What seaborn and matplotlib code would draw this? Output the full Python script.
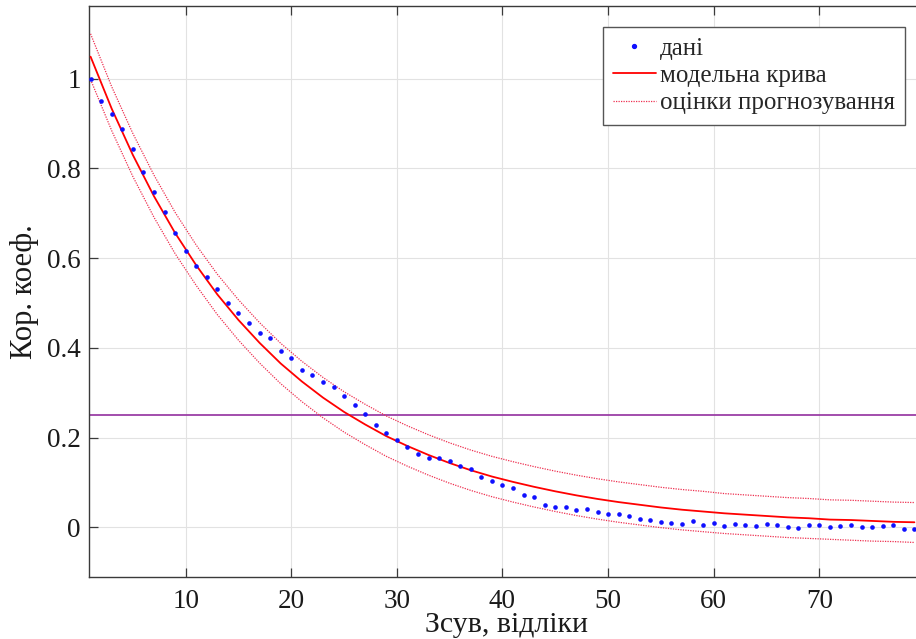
import matplotlib
matplotlib.use("Agg")
import matplotlib.pyplot as plt
import seaborn as sns
import pandas as pd
from matplotlib.lines import Line2D

# Lag values and measured correlation coefficients
lags = list(range(1, 80))
corr = [
    1.000, 0.951, 0.922, 0.888, 0.843, 0.791, 0.747, 0.702, 0.656, 0.615,
    0.582, 0.558, 0.531, 0.500, 0.477, 0.456, 0.432, 0.421, 0.392, 0.377,
    0.351, 0.340, 0.323, 0.312, 0.292, 0.273, 0.253, 0.227, 0.210, 0.195,
    0.178, 0.163, 0.155, 0.154, 0.148, 0.137, 0.130, 0.113, 0.103, 0.094,
    0.087, 0.071, 0.067, 0.050, 0.046, 0.044, 0.039, 0.041, 0.033, 0.030,
    0.030, 0.026, 0.019, 0.016, 0.012, 0.010, 0.007, 0.014, 0.006, 0.010,
    0.003, 0.007, 0.004, 0.002, 0.007, 0.004, 0.000, -0.002, 0.006, 0.004,
    0.001, 0.002, 0.004, 0.001, 0.001, 0.002, 0.004, -0.004, -0.003,
]

# Fitted model curve and prediction bounds, sampled every second lag
curve_lags = list(range(1, 80, 2))
model = [
    1.049, 0.933, 0.830, 0.738, 0.656, 0.584, 0.519, 0.462, 0.411, 0.365,
    0.325, 0.289, 0.257, 0.229, 0.203, 0.181, 0.161, 0.143, 0.127, 0.113,
    0.101, 0.090, 0.080, 0.071, 0.063, 0.056, 0.050, 0.044, 0.039, 0.035,
    0.031, 0.028, 0.025, 0.022, 0.020, 0.017, 0.016, 0.014, 0.012, 0.011,
]
upper = [
    1.100, 0.982, 0.878, 0.785, 0.702, 0.629, 0.564, 0.507, 0.456, 0.410,
    0.370, 0.334, 0.302, 0.274, 0.248, 0.226, 0.206, 0.188, 0.172, 0.158,
    0.146, 0.135, 0.125, 0.116, 0.108, 0.101, 0.095, 0.089, 0.084, 0.080,
    0.075, 0.072, 0.069, 0.066, 0.064, 0.061, 0.060, 0.058, 0.056, 0.055,
]
lower = [
    0.998, 0.884, 0.782, 0.691, 0.610, 0.539, 0.474, 0.417, 0.366, 0.320,
    0.280, 0.244, 0.212, 0.184, 0.158, 0.136, 0.116, 0.098, 0.082, 0.068,
    0.056, 0.045, 0.035, 0.026, 0.018, 0.011, 0.005, -0.001, -0.006, -0.010,
    -0.014, -0.017, -0.020, -0.023, -0.025, -0.027, -0.029, -0.031, -0.032, -0.034,
]
threshold = 0.25

x_ticks = [10, 20, 30, 40, 50, 60, 70]
y_ticks = [0, 0.2, 0.4, 0.6, 0.8, 1.0]
y_tick_labels = ["0", "0.2", "0.4", "0.6", "0.8", "1"]

sns.set_theme(style="whitegrid")
plt.rcParams["font.family"] = ["Liberation Serif", "DejaVu Serif"]

data_df = pd.DataFrame({"lag": lags, "corr": corr})
curve_df = pd.DataFrame({"lag": curve_lags, "model": model,
                         "upper": upper, "lower": lower})

fig = plt.figure(figsize=(9.16, 6.39), dpi=100)
ax = fig.add_axes([89 / 916, 62 / 639, 827 / 916, 571 / 639])
ax.set_facecolor("white")

ax.axhline(threshold, color="#9b3fa6", lw=1.3, zorder=2)

sns.lineplot(data=curve_df, x="lag", y="upper", ax=ax, color="#ee3050",
             lw=0.9, linestyle=(0, (1, 1)), zorder=3)
sns.lineplot(data=curve_df, x="lag", y="lower", ax=ax, color="#ee3050",
             lw=0.9, linestyle=(0, (1, 1)), zorder=3)
sns.lineplot(data=curve_df, x="lag", y="model", ax=ax, color="#ff0000",
             lw=1.3, zorder=4)
sns.scatterplot(data=data_df, x="lag", y="corr", ax=ax, color="#1010ff",
                s=11, linewidth=0, zorder=5)

ax.set_xlim(0.85, 79.15)
ax.set_ylim(-0.111, 1.162)
ax.set_xticks(x_ticks)
ax.set_xticklabels([str(t) for t in x_ticks])
ax.set_yticks(y_ticks)
ax.set_yticklabels(y_tick_labels)

ax.grid(True, color="#e2e2e2", lw=0.8)
for side in ["left", "bottom", "top"]:
    ax.spines[side].set_visible(True)
    ax.spines[side].set_color("#3a3a3a")
    ax.spines[side].set_linewidth(1.0)
ax.spines["right"].set_visible(False)

ax.tick_params(axis="both", direction="in", length=6.5, width=0.9,
               color="#3a3a3a", labelsize=19.5, labelcolor="#1a1a1a")
ax.tick_params(axis="x", top=True, bottom=True, pad=9)
ax.tick_params(axis="y", left=True, right=False, pad=6)

ax.set_xlabel("Зсув, відліки", fontsize=21.5, color="#1a1a1a")
ax.set_ylabel("Кор. коеф.", fontsize=22, color="#1a1a1a")
ax.xaxis.set_label_coords(0.505, -0.062)
ax.yaxis.set_label_coords(-0.06, 0.5)

handles = [
    Line2D([], [], marker="o", ls="none", color="#1010ff", markersize=2.8),
    Line2D([], [], color="#ff0000", lw=1.3),
    Line2D([], [], color="#ee3050", lw=0.9, ls=(0, (1, 1))),
]
labels = ["дані", "модельна крива", "оцінки прогнозування"]
leg = ax.legend(handles, labels, loc="upper right",
                bbox_to_anchor=((905 - 89) / 827, 1 - 21 / 571),
                fontsize=18, frameon=True, fancybox=False, framealpha=1,
                edgecolor="#555555", handlelength=1.75, handletextpad=0.15,
                borderpad=0.4, labelspacing=0.2, borderaxespad=0)
leg.get_frame().set_linewidth(1.0)

fig.savefig("out.png", dpi=100)
